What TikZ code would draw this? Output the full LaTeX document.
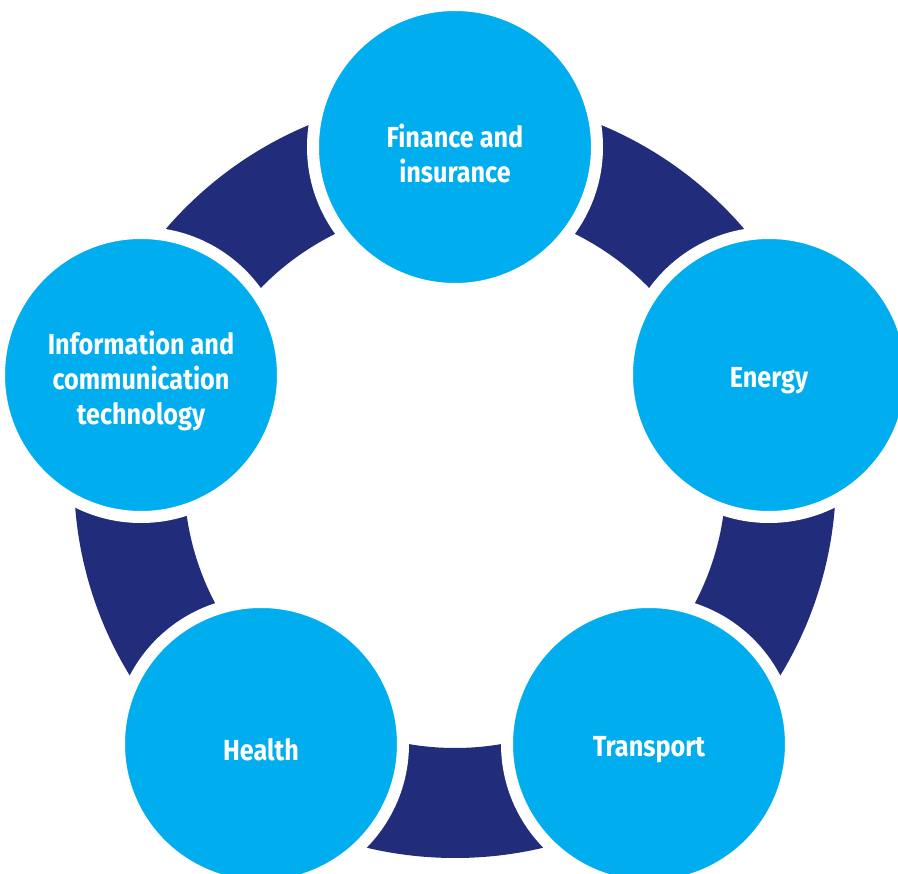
\documentclass[tikz,border=0pt]{standalone}
\usepackage{fontspec}
\setmainfont{Fira Sans}[FakeStretch=0.87]
\definecolor{navy}{HTML}{212D7A}
\definecolor{sky}{HTML}{00AEEF}
\begin{document}
\begin{tikzpicture}[x=1pt,y=-1pt,
  hub/.style={circle,fill=sky,draw=white,line width=12pt,minimum size=284pt,inner sep=0pt},
  txt/.style={text=white,font=\fontsize{29}{35}\selectfont\bfseries,align=center,yshift=-6pt}]
\useasboundingbox (0,0) rectangle (898,874);
\fill[navy,even odd rule] (455,477) circle[radius=381] (455,477) circle[radius=271];
\node[hub,label={[txt]center:Finance and\\insurance}] (fin) at (455,147) {};
\node[hub,label={[txt]center:Energy}] (ene) at (769,375) {};
\node[hub,label={[txt]center:Transport}] (tra) at (649,744) {};
\node[hub,label={[txt]center:Health}] (hea) at (261,744) {};
\node[hub,label={[txt]center:Information and\\communication\\technology}] (ict) at (141,375) {};
\end{tikzpicture}
\end{document}
